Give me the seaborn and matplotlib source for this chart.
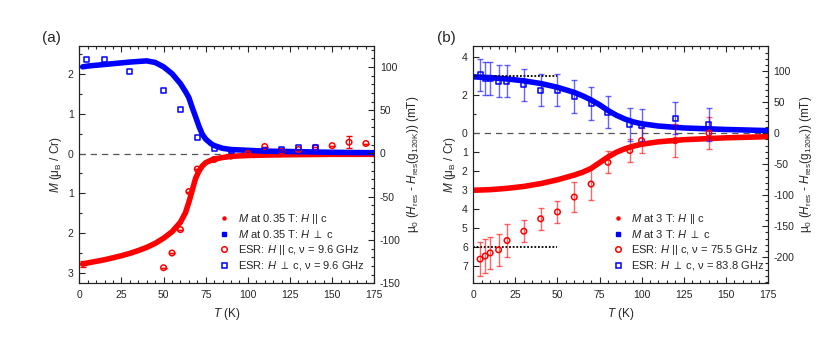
import numpy as np
import pandas as pd
import matplotlib
matplotlib.use("Agg")
import matplotlib.pyplot as plt
import seaborn as sns
from matplotlib.ticker import MultipleLocator, FixedLocator, FuncFormatter
from matplotlib.lines import Line2D

sns.set_theme(style="ticks")
plt.rcParams["font.family"] = ["Liberation Sans", "DejaVu Sans"]
plt.rcParams["mathtext.fontset"] = "custom"
plt.rcParams["mathtext.rm"] = "Liberation Sans"
plt.rcParams["mathtext.it"] = "Liberation Sans:italic"
plt.rcParams["mathtext.fallback"] = "stixsans"
plt.rcParams["axes.unicode_minus"] = False
plt.rcParams["axes.linewidth"] = 0.8

# ---------------- panel (a) data ----------------
a_par_T = [2, 5, 10, 15, 20, 25, 30, 35, 40, 45, 50, 55, 60, 63, 65, 67, 69, 71, 73, 75, 78, 80, 85, 90, 100, 110, 125, 150, 175]
a_par_M = [-2.77, -2.74, -2.70, -2.66, -2.61, -2.56, -2.50, -2.43, -2.35, -2.25, -2.12, -1.96, -1.72, -1.48, -1.22, -0.92, -0.62, -0.44, -0.31, -0.23, -0.17, -0.14, -0.10, -0.07, -0.05, -0.04, -0.03, -0.02, -0.02]
a_perp_T = [2, 5, 10, 20, 30, 40, 45, 50, 55, 60, 63, 65, 67, 69, 71, 73, 75, 78, 80, 85, 90, 100, 110, 125, 150, 175]
a_perp_M = [2.17, 2.19, 2.21, 2.25, 2.29, 2.32, 2.28, 2.17, 2.00, 1.75, 1.55, 1.40, 1.15, 0.92, 0.68, 0.48, 0.36, 0.25, 0.20, 0.13, 0.10, 0.08, 0.06, 0.05, 0.03, 0.02]

a_esr_par_T = [50, 55, 60, 65, 70, 80, 90, 100, 110, 120, 130, 140, 150, 160, 170]
a_esr_par_v = [-132, -115, -88, -44, -18, -7, -3, 0, 8, 3, 4.5, 7, 9, 13, 11.5]
a_esr_par_err = [0, 0, 0, 0, 0, 0, 0, 0, 0, 0, 0, 0, 0, 7, 0]
a_esr_perp_T = [4, 15, 30, 50, 60, 70, 80, 90, 110, 120, 130, 140]
a_esr_perp_v = [108.5, 108.5, 95, 73, 51, 18, 5.5, 3, 3, 4.5, 7, 7]

# ---------------- panel (b) data ----------------
b_par_T = [0, 10, 20, 30, 40, 50, 60, 65, 70, 75, 80, 85, 90, 95, 100, 110, 125, 150, 175]
b_par_M = [-3.0, -2.97, -2.9, -2.8, -2.65, -2.45, -2.2, -2.05, -1.85, -1.55, -1.25, -1.0, -0.82, -0.68, -0.58, -0.45, -0.34, -0.24, -0.18]
b_perp_T = [0, 10, 20, 30, 40, 50, 60, 65, 70, 75, 80, 85, 90, 95, 100, 110, 125, 150, 175]
b_perp_M = [2.97, 2.93, 2.86, 2.76, 2.62, 2.42, 2.15, 1.97, 1.75, 1.5, 1.2, 0.95, 0.75, 0.6, 0.5, 0.38, 0.28, 0.2, 0.14]

b_esr_par_T = [4, 7, 10, 15, 20, 30, 40, 50, 60, 70, 80, 93, 100, 120, 140]
b_esr_par_v = [-203, -198, -193, -188, -173, -158, -138, -127, -103, -82, -47, -28, -12, -12, 0]
b_esr_par_err = [27, 27, 26, 26, 26, 18, 18, 18, 24, 26, 18, 18, 20, 26, 26]
b_esr_perp_T = [4, 7, 10, 15, 20, 30, 40, 50, 60, 70, 80, 93, 100, 120, 140]
b_esr_perp_v = [94, 88, 88, 84, 84, 78, 69, 69, 59, 48, 34, 14, 13, 24, 14]
b_esr_perp_err = [26, 26, 26, 26, 26, 26, 26, 26, 26, 26, 26, 26, 26, 26, 26]

b_dotted_T = [0, 50]
b_dotted_levels = [3, -6]

RED = "#ff0000"
BLUE = "#0000ff"
FS_TICK = 7.5
FS_LAB = 8.5
FS_LEG = 8

fig = plt.figure(figsize=(8.3, 3.42), dpi=100)


def style_axes(ax, axr, ylim_l, ylim_r):
    ax.set_xlim(0, 175)
    ax.set_ylim(*ylim_l)
    axr.set_ylim(*ylim_r)
    ax.xaxis.set_major_locator(MultipleLocator(25))
    ax.xaxis.set_minor_locator(MultipleLocator(5))
    axr.yaxis.set_major_locator(MultipleLocator(50))
    axr.yaxis.set_minor_locator(MultipleLocator(10))
    ax.yaxis.set_major_formatter(FuncFormatter(lambda v, p: f"{abs(v):g}"))
    ax.tick_params(which="both", direction="in", top=True, right=False, labelsize=FS_TICK, width=0.8)
    ax.tick_params(axis="x", pad=5)
    ax.tick_params(axis="y", pad=4)
    ax.tick_params(which="major", length=4)
    ax.tick_params(which="minor", length=2)
    axr.tick_params(which="both", direction="in", labelsize=FS_TICK, width=0.8, pad=4)
    axr.tick_params(which="major", length=4)
    axr.tick_params(which="minor", length=2)
    ax.axhline(0, color="#555555", ls=(0, (5, 4)), lw=0.9, zorder=1)
    ax.set_xlabel(r"$T$ (K)", fontsize=FS_LAB, labelpad=4)
    ax.set_ylabel(r"$M$ (μ$_\mathrm{B}$ / Cr)", fontsize=FS_LAB, labelpad=3)
    axr.set_ylabel(r"μ$_0$ ($H_\mathrm{res}$ - $H_\mathrm{res}$(g$_\mathrm{120K}$)) (mT)", fontsize=FS_LAB,
                   rotation=90, labelpad=3)
    for s in list(ax.spines.values()) + list(axr.spines.values()):
        s.set_color("#222222")


def legend(ax, labels, x0):
    handles = [
        Line2D([], [], ls="none", marker="o", ms=2.2, color=RED),
        Line2D([], [], ls="none", marker="s", ms=2.2, color=BLUE),
        Line2D([], [], ls="none", marker="o", ms=4, mfc="none", mec=RED, mew=1.1),
        Line2D([], [], ls="none", marker="s", ms=3.6, mfc="none", mec=BLUE, mew=1.1),
    ]
    ax.legend(handles, labels, loc="lower left", bbox_to_anchor=(x0, 0.015), frameon=False,
              fontsize=FS_LEG, handlelength=0.8, handletextpad=0.8, labelspacing=0.22, borderpad=0.2)


# ---------------- panel (a) ----------------
ax1 = fig.add_axes([0.0955, 0.1716, 0.3555, 0.6948])
ax1r = ax1.twinx()
sns.lineplot(x=a_par_T, y=a_par_M, ax=ax1, color=RED, lw=4, zorder=3)
sns.lineplot(x=a_perp_T, y=a_perp_M, ax=ax1, color=BLUE, lw=4, zorder=3)
ax1.errorbar(a_par_T[:1], a_par_M[:1], yerr=[0.08], fmt="none", ecolor=RED, elinewidth=0.8, capsize=2, zorder=4)
ax1.yaxis.set_major_locator(MultipleLocator(1))
ax1.yaxis.set_minor_locator(MultipleLocator(0.5))

ax1r.errorbar(a_esr_par_T, a_esr_par_v, yerr=a_esr_par_err, fmt="none", ecolor=RED, elinewidth=0.8, capsize=2, zorder=4)
sns.scatterplot(x=a_esr_par_T, y=a_esr_par_v, ax=ax1r, marker="o", s=16, facecolor="none", edgecolor=RED, linewidth=1.1, zorder=5)
sns.scatterplot(x=a_esr_perp_T, y=a_esr_perp_v, ax=ax1r, marker="s", s=13, facecolor="none", edgecolor=BLUE, linewidth=1.1, zorder=5)
style_axes(ax1, ax1r, (-3.25, 2.7), (-150, 124.5))
legend(ax1, [r"$M$ at 0.35 T: $H$ || c", r"$M$ at 0.35 T: $H\ \perp$ c",
             r"ESR: $H$ || c, ν = 9.6 GHz", r"ESR: $H\ \perp$ c, ν = 9.6 GHz"], 0.45)
fig.text(0.0506, 0.878, "(a)", fontsize=11, va="baseline")

# ---------------- panel (b) ----------------
ax2 = fig.add_axes([0.5703, 0.1716, 0.3547, 0.6948])
ax2r = ax2.twinx()
sns.lineplot(x=b_par_T, y=b_par_M, ax=ax2, color=RED, lw=4, zorder=3)
sns.lineplot(x=b_perp_T, y=b_perp_M, ax=ax2, color=BLUE, lw=4, zorder=3)
for lev in b_dotted_levels:
    ax2.plot(b_dotted_T, [lev, lev], color="black", ls=(0, (1, 1)), lw=1.3, zorder=4)
ax2.yaxis.set_major_locator(FixedLocator([4, 2, 0, -1, -2, -3, -4, -5, -6, -7]))
ax2.yaxis.set_minor_locator(FixedLocator([3, 1]))

ax2r.errorbar(b_esr_par_T, b_esr_par_v, yerr=b_esr_par_err, fmt="none", ecolor=RED, alpha=0.6,
              elinewidth=1.0, capsize=2.5, zorder=4)
ax2r.errorbar(b_esr_perp_T, b_esr_perp_v, yerr=b_esr_perp_err, fmt="none", ecolor=BLUE, alpha=0.6,
              elinewidth=1.0, capsize=2.5, zorder=4)
sns.scatterplot(x=b_esr_par_T, y=b_esr_par_v, ax=ax2r, marker="o", s=16, facecolor="none", edgecolor=RED, linewidth=1.1, zorder=5)
sns.scatterplot(x=b_esr_perp_T, y=b_esr_perp_v, ax=ax2r, marker="s", s=13, facecolor="none", edgecolor=BLUE, linewidth=1.1, zorder=5)
style_axes(ax2, ax2r, (-7.9, 4.61), (-242, 141))
legend(ax2, [r"$M$ at 3 T: $H$ || c", r"$M$ at 3 T: $H\ \perp$ c",
             r"ESR: $H$ || c, ν = 75.5 GHz", r"ESR: $H\ \perp$ c, ν = 83.8 GHz"], 0.45)
fig.text(0.526, 0.878, "(b)", fontsize=11, va="baseline")

fig.savefig("out.png", dpi=100)
